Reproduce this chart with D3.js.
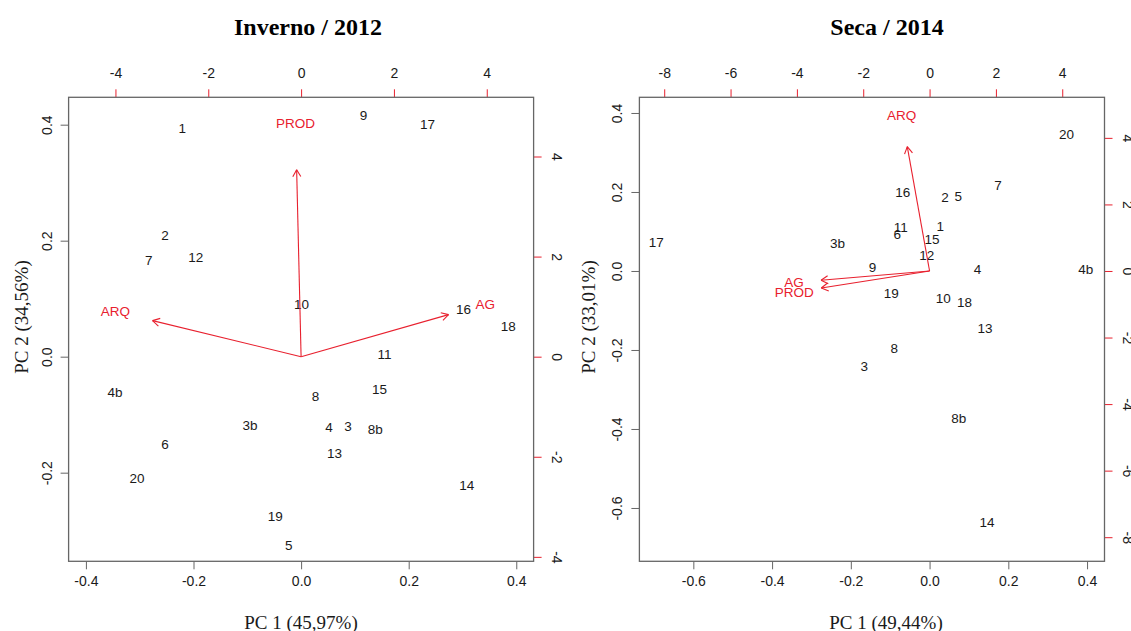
<!DOCTYPE html>
<html>
<head>
<meta charset="utf-8">
<script src="https://cdn.jsdelivr.net/npm/d3@7"></script>
<style>
  body { margin: 0; background: #fff; }
  svg { display: block; }
  .num { font-family: "Liberation Sans", Arial, sans-serif; }
  .serif { font-family: "Liberation Serif", "Times New Roman", serif; }
</style>
</head>
<body>
<svg id="chart" width="1131" height="631"></svg>
<script>
// observation labels (same order in both panels)
var obsLabels = ["1","2","3","3b","4","4b","5","6","7","8","8b","9","10","11","12","13","14","15","16","17","18","19","20"];

// Inverno / 2012 scores
var invPC1 = [-0.221,-0.253,0.087,-0.095,0.052,-0.346,-0.023,-0.253,-0.283,0.027,0.138,0.116,0.001,0.155,-0.196,0.062,0.308,0.146,0.302,0.235,0.385,-0.048,-0.305];
var invPC2 = [0.394,0.209,-0.120,-0.118,-0.121,-0.061,-0.325,-0.151,0.166,-0.068,-0.125,0.417,0.090,0.005,0.171,-0.166,-0.222,-0.056,0.081,0.400,0.053,-0.275,-0.210];

// Seca / 2014 scores
var secPC1 = [0.027,0.039,-0.166,-0.234,0.122,0.397,0.073,-0.082,0.174,-0.090,0.074,-0.145,0.035,-0.073,-0.007,0.141,0.146,0.006,-0.068,-0.694,0.089,-0.097,0.348];
var secPC2 = [0.113,0.187,-0.240,0.071,0.004,0.004,0.190,0.094,0.216,-0.196,-0.373,0.009,-0.070,0.110,0.041,-0.144,-0.635,0.081,0.200,0.072,-0.080,-0.056,0.347];

// variable loadings (label positions; arrows drawn to 0.8 of these)
var varNames = ["PROD","ARQ","AG"];
var invLoad1 = [-0.12,-4.00,3.97];
var invLoad2 = [4.67,0.90,1.05];
var secLoad1 = [-4.08,-0.84,-4.09];
var secLoad2 = [-0.64,4.67,-0.35];

// ticks
var invTicksBottom = [-0.4,-0.2,0,0.2,0.4];
var invTicksLeft = [-0.2,0,0.2,0.4];
var invTicksTop = [-4,-2,0,2,4];
var invTicksRight = [-4,-2,0,2,4];
var secTicksBottom = [-0.6,-0.4,-0.2,0,0.2,0.4];
var secTicksLeft = [-0.6,-0.4,-0.2,0,0.2,0.4];
var secTicksTop = [-8,-6,-4,-2,0,2,4];
var secTicksRight = [-8,-6,-4,-2,0,2,4];

var titles = ["Inverno / 2012","Seca / 2014"];
var xTitles = ["PC 1 (45,97%)","PC 1 (49,44%)"];
var yTitles = ["PC 2 (34,56%)","PC 2 (33,01%)"];

var RED = "#e8202e";
var GREY = "#666";
var INK = "#1a1a1a";

var svg = d3.select("#chart");
svg.append("rect").attr("width",1131).attr("height",631).attr("fill","#fff");

var panels = [
  { x0:68.6, x1:533.6, xdom:[-0.4322,0.4322], ydom:[-0.3528,0.4472], ratio:11.59,
    pc1:invPC1, pc2:invPC2, l1:invLoad1, l2:invLoad2,
    tb:invTicksBottom, tl:invTicksLeft, tt:invTicksTop, tr:invTicksRight,
    titleX:308, xTitleX:301, yTitleX:28 },
  { x0:639.4, x1:1104.5, xdom:[-0.737,0.4443], ydom:[-0.735,0.4397], ratio:11.87,
    pc1:secPC1, pc2:secPC2, l1:secLoad1, l2:secLoad2,
    tb:secTicksBottom, tl:secTicksLeft, tt:secTicksTop, tr:secTicksRight,
    titleX:887, xTitleX:886, yTitleX:595 }
];
var y0 = 97.3, y1 = 561.3;

panels.forEach(function(p, i) {
  var x = d3.scaleLinear().domain(p.xdom).range([p.x0, p.x1]);
  var y = d3.scaleLinear().domain(p.ydom).range([y1, y0]);
  var x2 = d3.scaleLinear().domain(p.xdom.map(function(v){ return v*p.ratio; })).range([p.x0, p.x1]);
  var y2 = d3.scaleLinear().domain(p.ydom.map(function(v){ return v*p.ratio; })).range([y1, y0]);

  // bottom axis
  var gb = svg.append("g").attr("class","num")
    .attr("transform","translate(0," + y1 + ")")
    .call(d3.axisBottom(x).tickValues(p.tb).tickSize(8).tickPadding(7)
      .tickFormat(function(d){ return d.toFixed(1); }));
  gb.select(".domain").remove();
  gb.selectAll("line").attr("stroke", GREY);
  gb.selectAll("text").attr("fill", INK).style("font-size","14px");

  // left axis, labels parallel to axis
  var gl = svg.append("g").attr("class","num")
    .attr("transform","translate(" + p.x0 + ",0)")
    .call(d3.axisLeft(y).tickValues(p.tl).tickSize(8)
      .tickFormat(function(d){ return d.toFixed(1); }));
  gl.select(".domain").remove();
  gl.selectAll("line").attr("stroke", GREY);
  gl.selectAll("text").attr("fill", INK).style("font-size","14px")
    .attr("x", null).attr("dy","0.35em").attr("text-anchor","middle")
    .attr("transform","translate(-22,0) rotate(-90)");

  // top axis (loadings scale)
  var gt = svg.append("g").attr("class","num")
    .attr("transform","translate(0," + y0 + ")")
    .call(d3.axisTop(x2).tickValues(p.tt).tickSize(8).tickPadding(11)
      .tickFormat(function(d){ return String(d); }));
  gt.select(".domain").remove();
  gt.selectAll("line").attr("stroke", RED);
  gt.selectAll("text").attr("fill", INK).style("font-size","14px");

  // right axis (loadings scale)
  var gr = svg.append("g").attr("class","num")
    .attr("transform","translate(" + p.x1 + ",0)")
    .call(d3.axisRight(y2).tickValues(p.tr).tickSize(8)
      .tickFormat(function(d){ return String(d); }));
  gr.select(".domain").remove();
  gr.selectAll("line").attr("stroke", RED);
  gr.selectAll("text").attr("fill", INK).style("font-size","14px")
    .attr("x", null).attr("dy","0.35em").attr("text-anchor","middle")
    .attr("transform","translate(23,0) rotate(90)");

  // box
  svg.append("rect")
    .attr("x", p.x0).attr("y", y0)
    .attr("width", p.x1 - p.x0).attr("height", y1 - y0)
    .attr("fill","none").attr("stroke", GREY).attr("stroke-width",1.3);

  // observation labels
  svg.append("g").attr("class","num")
    .selectAll("text")
    .data(obsLabels)
    .enter().append("text")
      .attr("x", function(d, j){ return x(p.pc1[j]); })
      .attr("y", function(d, j){ return y(p.pc2[j]); })
      .attr("dy","0.35em")
      .attr("text-anchor","middle")
      .attr("fill", INK)
      .style("font-size","13.5px")
      .text(function(d){ return d; });

  // variable arrows
  var ox = x2(0), oy = y2(0);
  var ga = svg.append("g").attr("stroke", RED).attr("stroke-width",1.1).attr("fill","none");
  varNames.forEach(function(v, k) {
    var tx = x2(p.l1[k]*0.8), ty = y2(p.l2[k]*0.8);
    ga.append("line").attr("x1",ox).attr("y1",oy).attr("x2",tx).attr("y2",ty);
    var ang = Math.atan2(ty - oy, tx - ox), len = 8, spread = Math.PI/6;
    [ang + Math.PI - spread, ang + Math.PI + spread].forEach(function(a) {
      ga.append("line").attr("x1",tx).attr("y1",ty)
        .attr("x2", tx + len*Math.cos(a)).attr("y2", ty + len*Math.sin(a));
    });
  });
  svg.append("g").attr("class","num")
    .selectAll("text")
    .data(varNames)
    .enter().append("text")
      .attr("x", function(d, k){ return x2(p.l1[k]); })
      .attr("y", function(d, k){ return y2(p.l2[k]); })
      .attr("dy","0.35em")
      .attr("text-anchor","middle")
      .attr("fill", RED)
      .style("font-size","13.5px")
      .text(function(d){ return d; });

  // titles
  svg.append("text").attr("class","serif")
    .attr("x", p.titleX).attr("y", 35)
    .attr("text-anchor","middle").attr("font-weight","bold")
    .style("font-size","24px").attr("fill","#000")
    .text(titles[i]);
  svg.append("text").attr("class","serif")
    .attr("x", p.xTitleX).attr("y", 629)
    .attr("text-anchor","middle")
    .style("font-size","19px").attr("fill", INK)
    .text(xTitles[i]);
  svg.append("text").attr("class","serif")
    .attr("transform","translate(" + p.yTitleX + ",317) rotate(-90)")
    .attr("text-anchor","middle")
    .style("font-size","19px").attr("fill", INK)
    .text(yTitles[i]);
});
</script>
</body>
</html>
